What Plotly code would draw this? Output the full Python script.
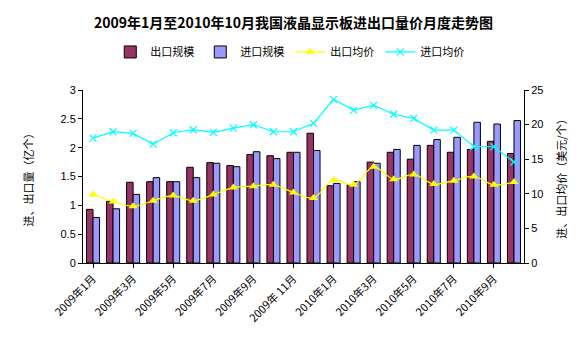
import plotly.graph_objects as go

months = [f"2009年{m}月" for m in range(1, 13)] + [f"2010年{m}月" for m in range(1, 11)]
tick_labels = ["2009年1月", "2009年3月", "2009年5月", "2009年7月", "2009年9月", "2009年 11月",
               "2010年1月", "2010年3月", "2010年5月", "2010年7月", "2010年9月"]
tick_vals = months[0::2]

export_vol = [0.93, 1.07, 1.40, 1.41, 1.41, 1.66, 1.74, 1.69, 1.88, 1.86, 1.92,
              2.25, 1.34, 1.36, 1.75, 1.92, 1.80, 2.04, 1.92, 1.97, 2.11, 1.90]
import_vol = [0.79, 0.94, 1.19, 1.48, 1.41, 1.48, 1.73, 1.67, 1.93, 1.81, 1.92,
              1.95, 1.38, 1.41, 1.73, 1.97, 2.04, 2.14, 2.18, 2.44, 2.41, 2.47]
export_price = [9.9, 8.9, 8.2, 9.0, 9.75, 9.0, 9.9, 10.9, 11.1, 11.3, 10.2,
                9.4, 12.0, 11.3, 13.9, 12.1, 12.8, 11.4, 11.9, 12.5, 11.3, 11.7]
import_price = [18.05, 18.97, 18.73, 17.18, 18.82, 19.26, 18.87, 19.5, 19.98, 18.97, 18.97,
                20.17, 23.65, 22.1, 22.78, 21.5, 20.9, 19.2, 19.2, 16.84, 16.8, 14.6]

font_cjk = "Noto Sans CJK SC, Liberation Sans, sans-serif"

fig = go.Figure()
fig.add_trace(go.Bar(x=months, y=export_vol, name="出口规模",
                     marker=dict(color="#993366", line=dict(color="black", width=1))))
fig.add_trace(go.Bar(x=months, y=import_vol, name="进口规模",
                     marker=dict(color="#9999FF", line=dict(color="black", width=1))))
fig.add_trace(go.Scatter(x=months, y=export_price, name="出口均价", yaxis="y2",
                         mode="lines+markers", line=dict(color="#FFFF00", width=1.2, shape="spline"),
                         marker=dict(symbol="triangle-up", size=8, color="#FFFF00")))
fig.add_trace(go.Scatter(x=months, y=import_price, name="进口均价", yaxis="y2",
                         mode="lines+markers", line=dict(color="#00FFFF", width=1.2),
                         marker=dict(symbol="x-thin", size=7, line=dict(color="#00FFFF", width=1.2))))

fig.update_layout(
    width=587, height=348,
    margin=dict(l=83, r=63, t=90, b=85),
    paper_bgcolor="white", plot_bgcolor="white",
    font=dict(family=font_cjk, size=11, color="black"),
    title=dict(text="<b>2009年1月至2010年10月我国液晶显示板进出口量价月度走势图</b>",
               x=0.5, xanchor="center", y=0.935, yanchor="middle",
               font=dict(size=14, family=font_cjk)),
    barmode="group", bargap=0.35, bargroupgap=0,
    showlegend=True,
    legend=dict(orientation="h", x=0.47, xanchor="center", y=1.22, yanchor="middle",
                font=dict(size=11), itemwidth=30, tracegroupgap=0,
                entrywidth=45, entrywidthmode="pixels",
                bgcolor="rgba(0,0,0,0)"),
    xaxis=dict(type="category", range=[-0.5, 21.5], tickmode="array", tickvals=tick_vals,
               ticktext=tick_labels, tickangle=-45, showline=True, linecolor="black", linewidth=1,
               ticks="outside", ticklen=4, tickcolor="black", showgrid=False,
               tickfont=dict(size=11, family=font_cjk)),
    yaxis=dict(range=[0, 3], dtick=0.5, showline=True, linecolor="black", linewidth=1,
               ticks="outside", ticklen=4, tickcolor="black", showgrid=False, zeroline=False,
               tickfont=dict(size=11, family="Liberation Sans")),
    yaxis2=dict(range=[0, 25], dtick=5, overlaying="y", side="right", showline=True,
                linecolor="black", linewidth=1, ticks="outside", ticklen=4, tickcolor="black",
                showgrid=False, zeroline=False, tickfont=dict(size=11, family="Liberation Sans")),
    annotations=[
        dict(text="进、出口量（亿个）", xref="paper", yref="paper", x=-0.125, y=0.5,
             textangle=-90, showarrow=False, font=dict(size=11, family=font_cjk),
             xanchor="center", yanchor="middle"),
        dict(text="进、出口均价（美元/个）", xref="paper", yref="paper", x=1.082, y=0.5,
             textangle=-90, showarrow=False, font=dict(size=11, family=font_cjk),
             xanchor="center", yanchor="middle"),
    ],
)

fig.write_html("out.html")
